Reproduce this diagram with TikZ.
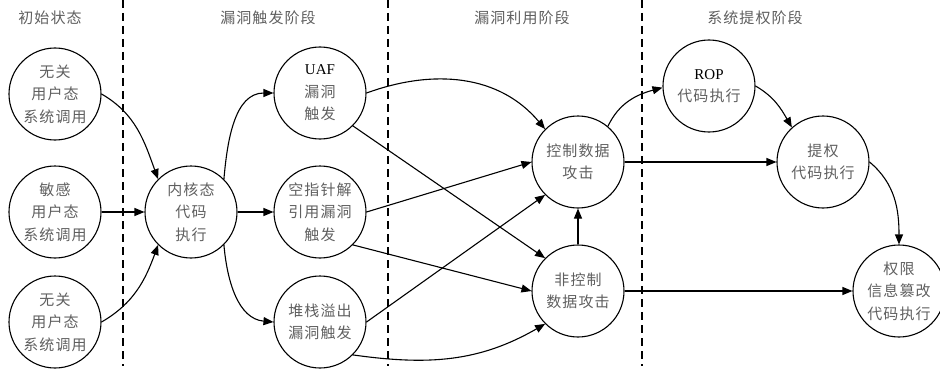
\documentclass[tikz,border=0pt]{standalone}
\usepackage{fontspec}
\setmainfont{Liberation Serif}
\newfontfamily\cjk[LetterSpace=7]{Noto Sans CJK SC}
\usetikzlibrary{arrows.meta}
\definecolor{txtgray}{RGB}{95,95,95}
\newcommand\zh[1]{{\cjk\color{txtgray}#1}}
\begin{document}
\begin{tikzpicture}[x=1pt,y=-1pt,
  st/.style={circle,draw,line width=1.1pt,minimum size=92pt,inner sep=0pt,align=center,font=\fontsize{15}{22.5}\selectfont},
  arr/.style={line width=1.1pt,-{Triangle[length=10pt,width=8pt]}},
  sep/.style={line width=1.2pt,dash pattern=on 8pt off 5pt},
  head/.style={font=\fontsize{15}{18}\selectfont\cjk,text=txtgray}]
\useasboundingbox (0,0) rectangle (940,369);
% separators
\draw[sep] (123,0) -- (123,366);
\draw[sep] (388,0) -- (388,366);
\draw[sep] (642,0) -- (642,366);
% headings
\node[head] (h1) at (50,18) {初始状态};
\node[head] (h2) at (268,18) {漏洞触发阶段};
\node[head] (h3) at (522,18) {漏洞利用阶段};
\node[head] (h4) at (755,18) {系统提权阶段};
% nodes
\node[st] (u1) at (55,94) {\zh{无关}\\\zh{用户态}\\\zh{系统调用}};
\node[st] (s) at (55,212) {\zh{敏感}\\\zh{用户态}\\\zh{系统调用}};
\node[st] (u2) at (55,322) {\zh{无关}\\\zh{用户态}\\\zh{系统调用}};
\node[st] (k) at (191,212) {\zh{内核态}\\\zh{代码}\\\zh{执行}};
\node[st] (uaf) at (320,93) {UAF\\\zh{漏洞}\\\zh{触发}};
\node[st] (np) at (320,212) {\zh{空指针解}\\\zh{引用漏洞}\\\zh{触发}};
\node[st] (so) at (320,322) {\zh{堆栈溢出}\\\zh{漏洞触发}};
\node[st] (cd) at (578,162) {\zh{控制数据}\\\zh{攻击}};
\node[st] (nc) at (578,291) {\zh{非控制}\\\zh{数据攻击}};
\node[st] (rop) at (709,86) {ROP\\\zh{代码执行}};
\node[st] (pe) at (823,162) {\zh{提权}\\\zh{代码执行}};
\node[st] (pm) at (899,291) {\zh{权限}\\\zh{信息篡改}\\\zh{代码执行}};
% edges
\draw[arr] (u1.east) to[out=-30,in=110] (k.north west);
\draw[arr] (s.east) -- (k.west);
\draw[arr] (u2.east) to[out=30,in=-110] (k.south west);
\draw[arr] (k.north east) to[out=85,in=180] (uaf.west);
\draw[arr] (k.east) -- (np.west);
\draw[arr] (k.south east) to[out=-85,in=175] (so.west);
\draw[arr] (uaf.east) to[out=20,in=130] (cd.north west);
\draw[arr] (uaf.south east) -- (nc.north west);
\draw[arr] (np.east) -- (cd.west);
\draw[arr] (np.south east) -- (nc.west);
\draw[arr] (so.east) -- (cd.south west);
\draw[arr] (so.south east) to[out=-8,in=-150] (nc.south west);
\draw[arr] (nc.north) -- (cd.south);
\draw[arr] (cd.50) to[out=65,in=195] (rop.182);
\draw[arr] (cd.east) -- (pe.west);
\draw[arr] (rop.east) to[out=-30,in=120] (pe.132);
\draw[arr] (pe.east) to[out=-40,in=90] (pm.north);
\draw[arr] (nc.east) -- (pm.west);
\end{tikzpicture}
\end{document}
